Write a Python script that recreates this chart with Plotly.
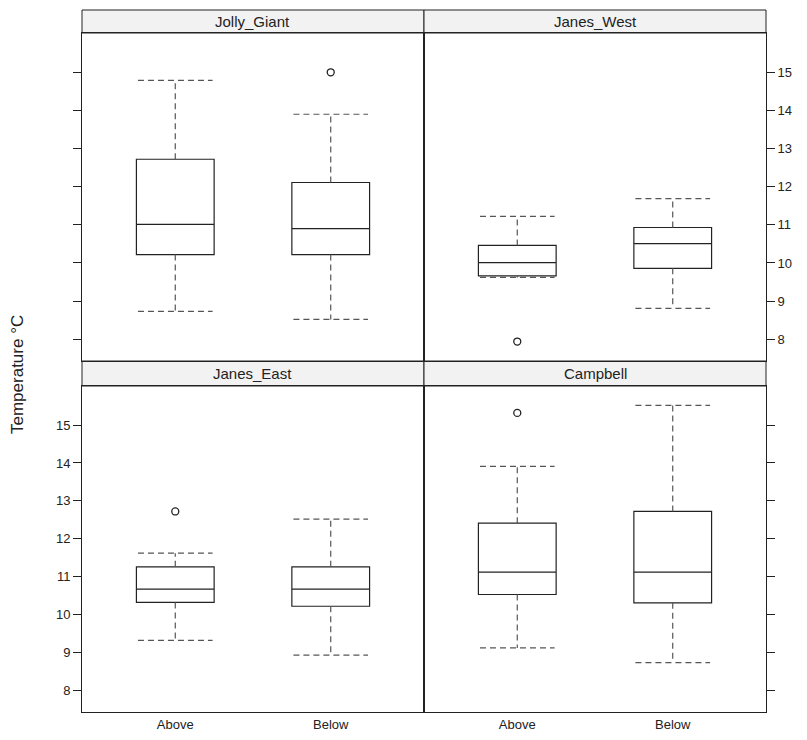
import plotly.graph_objects as go

sites = ["Jolly_Giant", "Janes_West", "Janes_East", "Campbell"]
groups = ["Above", "Below"]

# per site: [Above, Below]
lower_whisker = {"Jolly_Giant": [8.73, 8.52], "Janes_West": [9.62, 8.81],
                 "Janes_East": [9.32, 8.93], "Campbell": [9.12, 8.73]}
q1 = {"Jolly_Giant": [10.22, 10.22], "Janes_West": [9.66, 9.86],
      "Janes_East": [10.32, 10.22], "Campbell": [10.53, 10.31]}
median = {"Jolly_Giant": [11.01, 10.90], "Janes_West": [10.01, 10.51],
          "Janes_East": [10.67, 10.67], "Campbell": [11.12, 11.12]}
q3 = {"Jolly_Giant": [12.72, 12.11], "Janes_West": [10.46, 10.93],
      "Janes_East": [11.26, 11.26], "Campbell": [12.41, 12.72]}
upper_whisker = {"Jolly_Giant": [14.79, 13.90], "Janes_West": [11.22, 11.69],
                 "Janes_East": [11.62, 12.52], "Campbell": [13.91, 15.52]}
outliers = {"Jolly_Giant": [[], [15.0]], "Janes_West": [[7.94], []],
            "Janes_East": [[12.72], []], "Campbell": [[15.32], []]}

y_ticks = [8, 9, 10, 11, 12, 13, 14, 15]
y_label = "Temperature °C"

OFF = 8  # default body margin of the html page
W, H = 807 - 2 * OFF, 740 - 2 * OFF


def px_x(v):
    return (v - OFF) / W


def px_y(v):
    return 1 - (v - OFF) / H


xl0, xmid, xr1 = px_x(82), px_x(424), px_x(766)
top_dom = [px_y(361), px_y(33)]
bot_dom = [px_y(712), px_y(386)]
strip_top = [px_y(33), px_y(10)]
strip_bot = [px_y(386), px_y(361)]

panels = {
    "Jolly_Giant": dict(ax="", xd=[xl0, xmid], yd=top_dom, strip=strip_top, yside="left", ylab=False, xlab=False),
    "Janes_West": dict(ax="2", xd=[xmid, xr1], yd=top_dom, strip=strip_top, yside="right", ylab=True, xlab=False),
    "Janes_East": dict(ax="3", xd=[xl0, xmid], yd=bot_dom, strip=strip_bot, yside="left", ylab=True, xlab=True),
    "Campbell": dict(ax="4", xd=[xmid, xr1], yd=bot_dom, strip=strip_bot, yside="right", ylab=False, xlab=True),
}

fig = go.Figure()
BOXW = 0.5
CAP = 0.24
line_col = "#222222"
wh_col = "#555555"
xpos = [1, 2]

layout = dict(width=W, height=H, margin=dict(l=0, r=0, t=0, b=0, autoexpand=False),
              paper_bgcolor="white", plot_bgcolor="white", showlegend=False,
              font=dict(family="Liberation Sans, Arial, sans-serif", size=13, color="#222"))
shapes = []
annotations = []

for s in sites:
    p = panels[s]
    a = p["ax"]
    xa, ya = "x" + a, "y" + a
    for i, g in enumerate(groups):
        fig.add_trace(go.Box(
            x=[xpos[i]], q1=[q1[s][i]], median=[median[s][i]], q3=[q3[s][i]],
            lowerfence=[q1[s][i]], upperfence=[q3[s][i]],
            width=BOXW, fillcolor="rgba(0,0,0,0)",
            line=dict(color=line_col, width=1.2), whiskerwidth=0,
            xaxis=xa, yaxis=ya, hoverinfo="skip"))
        wx = [xpos[i], xpos[i], None, xpos[i] - CAP, xpos[i] + CAP, None,
              xpos[i], xpos[i], None, xpos[i] - CAP, xpos[i] + CAP]
        wy = [q3[s][i], upper_whisker[s][i], None, upper_whisker[s][i], upper_whisker[s][i], None,
              q1[s][i], lower_whisker[s][i], None, lower_whisker[s][i], lower_whisker[s][i]]
        fig.add_trace(go.Scatter(x=wx, y=wy, mode="lines",
                                 line=dict(color=wh_col, width=1.2, dash="6px,4px"),
                                 xaxis=xa, yaxis=ya, hoverinfo="skip"))
        if outliers[s][i]:
            fig.add_trace(go.Scatter(x=[xpos[i]] * len(outliers[s][i]), y=outliers[s][i],
                                     mode="markers",
                                     marker=dict(symbol="circle-open", size=7,
                                                 color=line_col, line=dict(width=1.3)),
                                     xaxis=xa, yaxis=ya, hoverinfo="skip"))
    layout["xaxis" + a] = dict(domain=p["xd"], anchor=ya, range=[0.4, 2.6], automargin=False,
                               tickvals=xpos, ticktext=groups, showticklabels=p["xlab"],
                               ticks="", showgrid=False, zeroline=False,
                               showline=True, mirror=True, linecolor="#222", linewidth=1,
                               tickfont=dict(size=13, color="#222"))
    layout["yaxis" + a] = dict(domain=p["yd"], anchor=xa, range=[7.43, 16.03], automargin=False,
                               tickvals=y_ticks, showticklabels=p["ylab"], side=p["yside"],
                               ticks="outside", ticklen=8, tickcolor="#222",
                               showgrid=False, zeroline=False,
                               showline=True, mirror=True, linecolor="#222", linewidth=1,
                               tickfont=dict(size=13, color="#222"))
    shapes.append(dict(type="rect", xref="paper", yref="paper",
                       x0=p["xd"][0], x1=p["xd"][1], y0=p["strip"][0], y1=p["strip"][1],
                       fillcolor="#f2f2f2", line=dict(color="#222", width=1), layer="below"))
    annotations.append(dict(text=s, xref="paper", yref="paper",
                            x=(p["xd"][0] + p["xd"][1]) / 2, y=(p["strip"][0] + p["strip"][1]) / 2,
                            showarrow=False, xanchor="center", yanchor="middle",
                            font=dict(size=15, color="#222")))

annotations.append(dict(text=y_label, xref="paper", yref="paper", x=px_x(18), y=px_y(375),
                        textangle=-90, showarrow=False, xanchor="center", yanchor="middle",
                        font=dict(size=17, color="#222")))
layout["shapes"] = shapes
layout["annotations"] = annotations
fig.update_layout(**layout)
fig.write_html("out.html")
